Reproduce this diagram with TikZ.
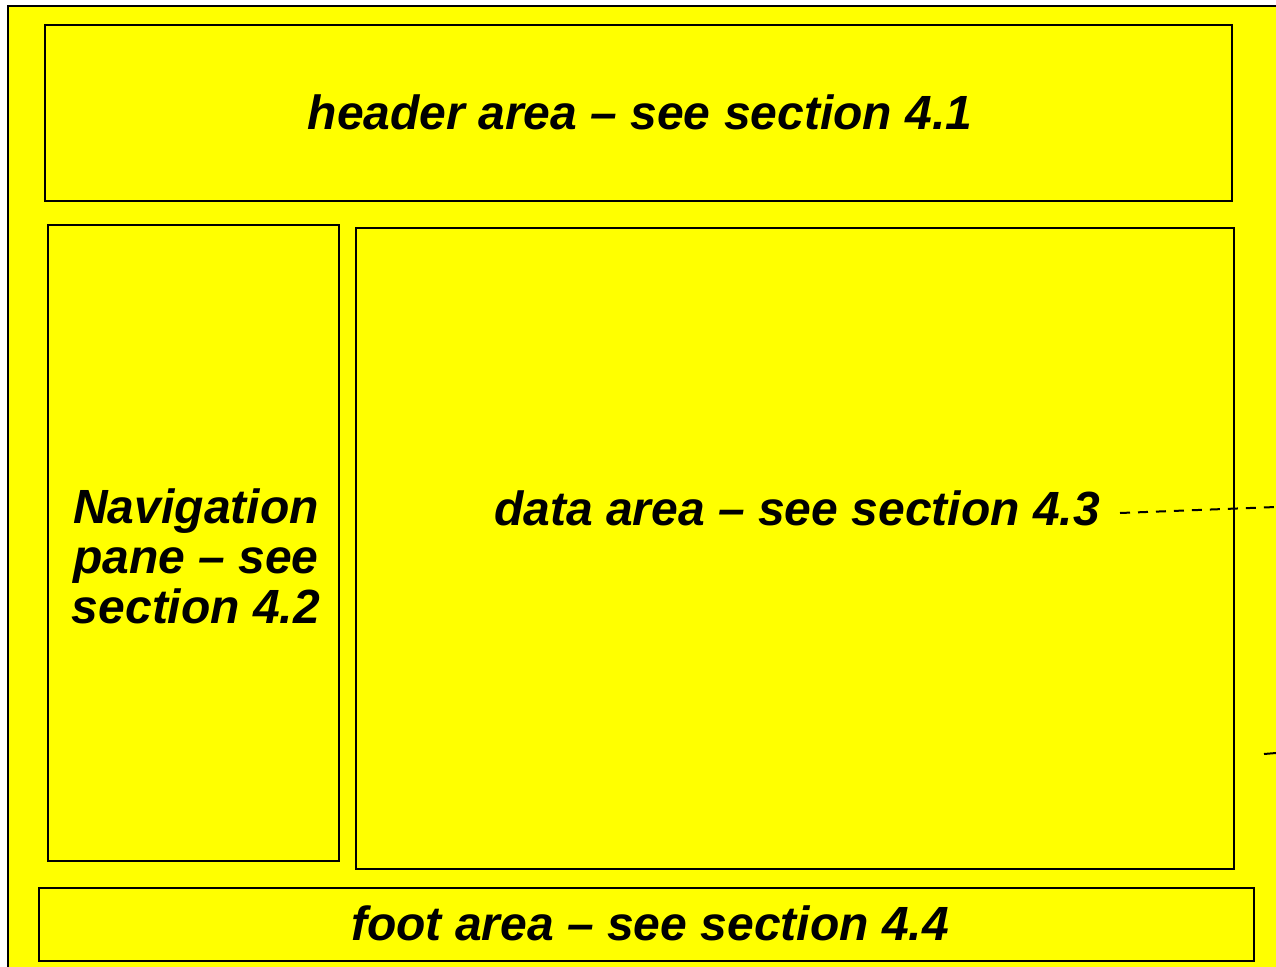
\documentclass[tikz,border=0pt]{standalone}
\usepackage{fontspec}
\setmainfont{Liberation Sans}
\usetikzlibrary{positioning}
\definecolor{pageyellow}{RGB}{255,255,0}
\tikzset{area/.style={draw,line width=2pt,fill=pageyellow,rectangle,
                      inner sep=0pt,font=\fontsize{48}{50}\selectfont\bfseries\itshape}}
\tikzset{areatext/.style={inner sep=0pt,font=\fontsize{48}{50}\selectfont\bfseries\itshape}}

\begin{document}
\begin{tikzpicture}[x=1pt,y=-1pt]
    \useasboundingbox (0,0) rectangle (1276,966);

    % page
    \node[area,anchor=north west,minimum width=1300pt,minimum height=1000pt] (page) at (7,5) {};

    % header
    \node[area,minimum width=1187pt,minimum height=176pt] (header) at (638.5,113) {};
    \node[areatext] (headerlabel) at (640,112) {header area -- see section 4.1};

    % navigation pane
    \node[area,minimum width=291pt,minimum height=636pt] (nav) at (193.5,543) {};
    \node[areatext,align=center] (navlabel) at (196,556)
        {Navigation\\pane -- see\\section 4.2};

    % data area
    \node[area,minimum width=878pt,minimum height=641pt] (data) at (795,548.5) {};
    \node[areatext] (datalabel) at (797,508) {data area -- see section 4.3};

    % foot
    \node[area,minimum width=1215pt,minimum height=73pt] (foot) at (646.5,924.5) {};
    \node[areatext] (footlabel) at (650,923) {foot area -- see section 4.4};

    % leaders to the right
    \coordinate (datastart) at (1120,513);
    \coordinate (dataend) at (1276,507);
    \draw[line width=2pt,dash pattern=on 10pt off 8pt] (datastart) -- (dataend);
    \coordinate (lowstart) at (1264,754);
    \coordinate (lowend) at (1276,753);
    \draw[line width=2pt] (lowstart) -- (lowend);
\end{tikzpicture}
\end{document}
